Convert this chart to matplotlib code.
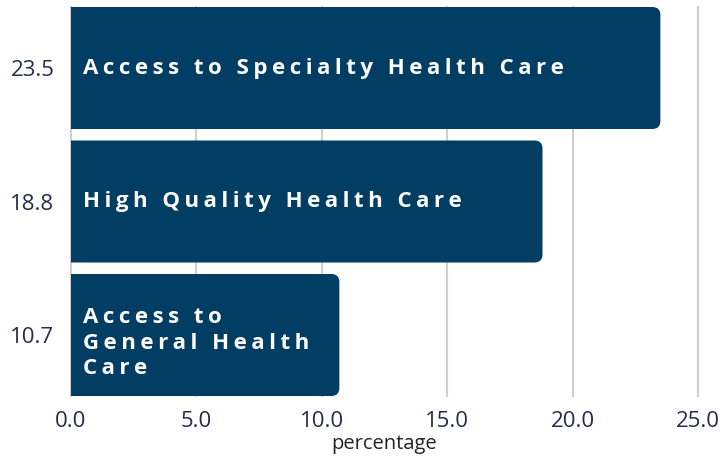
import matplotlib
matplotlib.use("Agg")
import matplotlib.pyplot as plt
import matplotlib.transforms as mtransforms
from matplotlib.patches import FancyBboxPatch

categories = ["Access to Specialty Health Care", "High Quality Health Care", "Access to\nGeneral Health\nCare"]
values = [23.5, 18.8, 10.7]
xticks = [0, 5, 10, 15, 20, 25]

BAR = "#023d63"
TICK = "#252d4a"
GRID = "#cfcdd6"

plt.rcParams['font.family'] = ['Open Sans', 'DejaVu Sans']

fig = plt.figure(figsize=(7.24, 4.57), dpi=100)
ax = fig.add_axes([71/724, (457-396)/457, (698-71)/724, (396-7)/457])

h = 0.914
ypos = list(range(len(values)))
bars = ax.barh(ypos, values, height=h, color="none", edgecolor="none")
rx = 0.32
ry = 0.06
for b in bars:
    x0, y0 = b.get_x(), b.get_y()
    w, hh = b.get_width(), b.get_height()
    p = FancyBboxPatch((x0 - 1.0, y0), w + 1.0, hh,
                       boxstyle=f"round,pad=0,rounding_size={rx}",
                       mutation_aspect=ry/rx, facecolor=BAR, edgecolor="none", zorder=3)
    ax.add_patch(p)

def spaced(s):
    lines = s.split("\n")
    return "\n".join("\u2009".join(list(l)) for l in lines)

for yi, cat in zip(ypos, categories):
    n = cat.count("\n")
    tr = ax.transData + mtransforms.ScaledTranslation(0, -n * 3.0 / 72, fig.dpi_scale_trans)
    ax.text(0.48, yi, spaced(cat), color="white", fontsize=16, fontweight="bold",
            va="center", ha="left", zorder=4, linespacing=1.28,
            family=['Open Sans', 'DejaVu Sans'], transform=tr)

ax.set_xlim(0, 25)
ax.set_ylim(len(values) - 1 + h/2, -h/2)
ax.set_xticks(xticks, labels=[f"{t:.1f}" for t in xticks])
ax.set_yticks(ypos, labels=[f"{v}" for v in values])
ax.tick_params(axis="both", length=0, labelsize=16, labelcolor=TICK)
ax.tick_params(axis="x", pad=11)
ax.tick_params(axis="y", pad=12)
ax.set_xlabel("percentage", fontsize=14.5, color="#222222", labelpad=1)
ax.grid(axis="x", color=GRID, linewidth=1.5, zorder=0, clip_on=False)
ax.grid(axis="y", visible=False)
ax.set_axisbelow(True)
for s in ax.spines.values():
    s.set_visible(False)

fig.savefig("out.png", dpi=100)
